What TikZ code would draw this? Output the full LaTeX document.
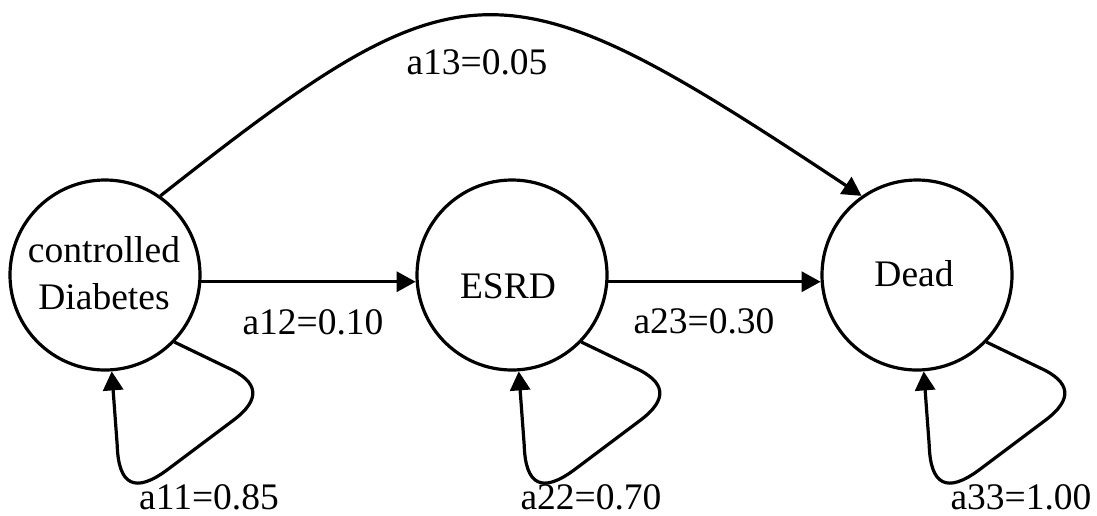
\documentclass[tikz,border=0pt]{standalone}
\usepackage{fontspec}
\setmainfont{Liberation Serif}
\usetikzlibrary{arrows.meta,calc}
\begin{document}
\begin{tikzpicture}[x=1pt,y=-1pt,
  state/.style={circle,draw=black,line width=3.2pt,minimum size=190pt,inner sep=0pt},
  txt/.style={anchor=base,inner sep=0pt,text depth=0pt,font=\fontsize{37.5pt}{47pt}\selectfont},
  edge/.style={line width=3.2pt,-{Triangle[length=19pt,width=20pt]}},
  looparrow/.style={line width=3.2pt,-{Triangle[length=19pt,width=20pt]}}
]
\useasboundingbox (0,0) rectangle (1097,515);
\node[state] (c1) at (105,275) {};
\node[state] (c2) at (512,275) {};
\node[state] (c3) at (917,275) {};
\node[txt,align=center] (t1) at (104,309) {controlled\\Diabetes};
\node[txt] (t2) at (508,298) {ESRD};
\node[txt] (t3) at (914,286) {Dead};
% transitions
\draw[edge] (c1.-4.2) -- (c2.184.2);
\draw[edge] (c2.-4.6) -- (c3.184.6);
\draw[edge] (c1.55) .. controls (465,-44) and (500,-44) .. (c3.125.7);
% self loops
\newcommand\selfloop[1]{%
  \draw[looparrow] (#1.-44) -- ($(#1)+(122.6,92.7)$)
    .. controls ($(#1)+(154.2,106.9)$) and ($(#1)+(156.1,124.4)$) .. ($(#1)+(128.4,145.2)$)
    -- ($(#1)+(62.8,194.4)$)
    .. controls ($(#1)+(30.3,218.8)$) and ($(#1)+(13.4,210.7)$) .. ($(#1)+(12.2,170)$)
    -- (#1.-86);}
\selfloop{c1}
\selfloop{c2}
\selfloop{c3}
% labels
\node[txt] (l13) at (477,74) {a13=0.05};
\node[txt] (l12) at (313,334) {a12=0.10};
\node[txt] (l23) at (704,333) {a23=0.30};
\node[txt] (l11) at (209,509) {a11=0.85};
\node[txt] (l22) at (591,509) {a22=0.70};
\node[txt] (l33) at (1021,509) {a33=1.00};
\end{tikzpicture}
\end{document}
